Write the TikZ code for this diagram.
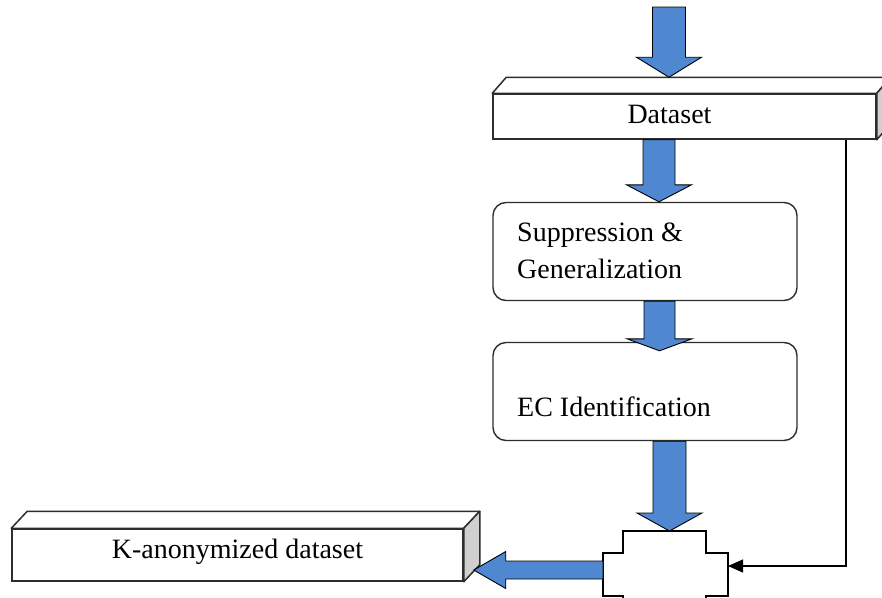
\documentclass[tikz,border=0pt]{standalone}
\usepackage{fontspec}
\setmainfont{Liberation Serif}
\usetikzlibrary{calc,arrows.meta}
\definecolor{barrow}{RGB}{79,136,208}
\definecolor{sideg}{RGB}{208,208,208}
\definecolor{edgec}{RGB}{45,45,45}
\newcommand\bdown[5]{%
  \path[blockarrow] let \p1=(#1), \p2=(#2) in
    (\x1-#3pt,\y1) -- (\x1+#3pt,\y1) -- (\x1+#3pt,\y2+#5pt) -- (\x1+#4pt,\y2+#5pt)
    -- (\x1,\y2) -- (\x1-#4pt,\y2+#5pt) -- (\x1-#3pt,\y2+#5pt) -- cycle;}
\newcommand\bleft[5]{%
  \path[blockarrow] let \p1=(#1), \p2=(#2) in
    (\x1,\y1+#3pt) -- (\x1,\y1-#3pt) -- (\x2+#5pt,\y1-#3pt) -- (\x2+#5pt,\y1-#4pt)
    -- (\x2,\y1) -- (\x2+#5pt,\y1+#4pt) -- (\x2+#5pt,\y1+#3pt) -- cycle;}
\begin{document}
\begin{tikzpicture}[x=1pt,y=-1pt,
  frontbox/.style={draw=edgec, line width=1.5pt, fill=white, rectangle, inner sep=0pt},
  topface/.style={draw=edgec, line width=1.5pt, fill=white, line join=round},
  sideface/.style={draw=edgec, line width=1.5pt, fill=sideg, line join=round},
  rbox/.style={draw=edgec, line width=1.4pt, fill=white, rounded corners=13pt,
    minimum width=304pt, minimum height=98pt, inner sep=0pt},
  blockarrow/.style={fill=barrow, draw=black, line width=0.9pt, line join=miter},
  fbline/.style={draw=black, line width=1.1pt, -{Triangle[length=15pt,width=13pt]}},
  lbl/.style={font=\fontsize{28}{34}\selectfont, inner sep=0pt},
  crossshape/.style={draw=black, line width=1.3pt, fill=white}
]
\useasboundingbox (0,0) rectangle (882,597);
\fill[white] (0,0) rectangle (882,597);

% Dataset 3D box
\node[frontbox, minimum width=383pt, minimum height=45pt] (ds) at (684.5,116.5) {};
\draw[topface] (ds.north west) -- ++(14,-16) -- ($(ds.north east)+(14,-16)$) -- (ds.north east) -- cycle;
\draw[sideface] (ds.north east) -- ++(14,-16) -- ($(ds.south east)+(14,-16)$) -- (ds.south east) -- cycle;
\node[lbl, anchor=base] (dst) at (669.5,123) {Dataset};

% process boxes
\node[rbox] (sup) at (645,251.5) {};
\node[lbl, anchor=base west] (supa) at (517,241) {Suppression \&};
\node[lbl, anchor=base west] (supb) at (517,278) {Generalization};
\node[rbox] (ec) at (645,391.5) {};
\node[lbl, anchor=base west] (ect) at (517,416) {EC Identification};

% K-anonymized 3D box
\node[frontbox, minimum width=451pt, minimum height=52pt] (kd) at (237.5,555) {};
\draw[topface] (kd.north west) -- ++(16,-17) -- ($(kd.north east)+(16,-17)$) -- (kd.north east) -- cycle;
\draw[sideface] (kd.north east) -- ++(16,-17) -- ($(kd.south east)+(16,-17)$) -- (kd.south east) -- cycle;
\node[lbl, anchor=base] (kdt) at (237.5,558) {K-anonymized dataset};

% merge cross
\draw[crossshape] (623,531) -- (706,531) -- (706,553) -- (728,553) -- (728,596) -- (706,596)
  -- (706,620) -- (623,620) -- (623,596) -- (603,596) -- (603,553) -- (623,553) -- cycle;
\coordinate (mgN) at (669.5,531);
\coordinate (mgW) at (603,570);
\coordinate (mgE) at (728,566);
\coordinate (in) at (669,7);

% block arrows
\bdown{in}{$(ds.north)+(-15.5,-16)$}{16.5}{32.5}{20}
\bdown{$(ds.south)+(-25.5,0)$}{sup.north}{16}{32.5}{17}
\bdown{$(sup.south)+(14.5,0)$}{$(ec.north)+(0,9)$}{15.5}{32.5}{12}
\bdown{$(ec.south)+(24.5,0)$}{mgN}{16.5}{32.5}{18}
\bleft{mgW}{$(kd.east)+(10,15)$}{9}{18.5}{32}

% feedback line
\draw[fbline] ($(ds.south)+(161.5,0)$) |- (mgE);
\end{tikzpicture}
\end{document}
